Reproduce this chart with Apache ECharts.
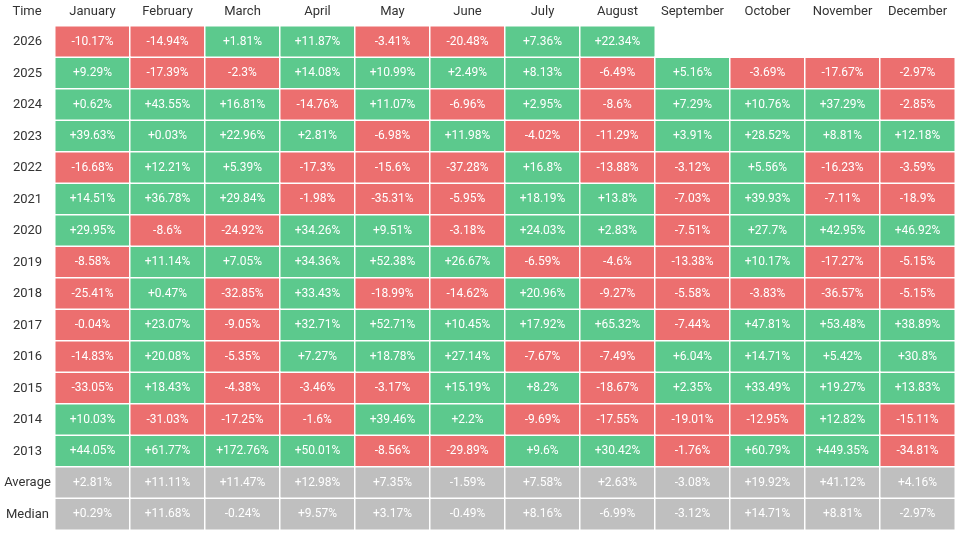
<!DOCTYPE html>
<html>
<head>
<meta charset="utf-8">
<script src="https://cdn.jsdelivr.net/npm/echarts@6/dist/echarts.min.js"></script>
<style>
  html, body { margin: 0; padding: 0; background: #fff; }
  #main { width: 960px; height: 536px; }
</style>
</head>
<body>
<div id="main"></div>
<script>
const months = ['January', 'February', 'March', 'April', 'May', 'June', 'July', 'August', 'September', 'October', 'November', 'December'];
// rows top to bottom
const rows = ['2026', '2025', '2024', '2023', '2022', '2021', '2020', '2019', '2018', '2017', '2016', '2015', '2014', '2013', 'Average', 'Median'];

const r2026 = [-10.17, -14.94, 1.81, 11.87, -3.41, -20.48, 7.36, 22.34, null, null, null, null];
const r2025 = [9.29, -17.39, -2.3, 14.08, 10.99, 2.49, 8.13, -6.49, 5.16, -3.69, -17.67, -2.97];
const r2024 = [0.62, 43.55, 16.81, -14.76, 11.07, -6.96, 2.95, -8.6, 7.29, 10.76, 37.29, -2.85];
const r2023 = [39.63, 0.03, 22.96, 2.81, -6.98, 11.98, -4.02, -11.29, 3.91, 28.52, 8.81, 12.18];
const r2022 = [-16.68, 12.21, 5.39, -17.3, -15.6, -37.28, 16.8, -13.88, -3.12, 5.56, -16.23, -3.59];
const r2021 = [14.51, 36.78, 29.84, -1.98, -35.31, -5.95, 18.19, 13.8, -7.03, 39.93, -7.11, -18.9];
const r2020 = [29.95, -8.6, -24.92, 34.26, 9.51, -3.18, 24.03, 2.83, -7.51, 27.7, 42.95, 46.92];
const r2019 = [-8.58, 11.14, 7.05, 34.36, 52.38, 26.67, -6.59, -4.6, -13.38, 10.17, -17.27, -5.15];
const r2018 = [-25.41, 0.47, -32.85, 33.43, -18.99, -14.62, 20.96, -9.27, -5.58, -3.83, -36.57, -5.15];
const r2017 = [-0.04, 23.07, -9.05, 32.71, 52.71, 10.45, 17.92, 65.32, -7.44, 47.81, 53.48, 38.89];
const r2016 = [-14.83, 20.08, -5.35, 7.27, 18.78, 27.14, -7.67, -7.49, 6.04, 14.71, 5.42, 30.8];
const r2015 = [-33.05, 18.43, -4.38, -3.46, -3.17, 15.19, 8.2, -18.67, 2.35, 33.49, 19.27, 13.83];
const r2014 = [10.03, -31.03, -17.25, -1.6, 39.46, 2.2, -9.69, -17.55, -19.01, -12.95, 12.82, -15.11];
const r2013 = [44.05, 61.77, 172.76, 50.01, -8.56, -29.89, 9.6, 30.42, -1.76, 60.79, 449.35, -34.81];
const average = [2.81, 11.11, 11.47, 12.98, 7.35, -1.59, 7.58, 2.63, -3.08, 19.92, 41.12, 4.16];
const median = [0.29, 11.68, -0.24, 9.57, 3.17, -0.49, 8.16, -6.99, -3.12, 14.71, 8.81, -2.97];

const table = [r2026, r2025, r2024, r2023, r2022, r2021, r2020, r2019, r2018, r2017, r2016, r2015, r2014, r2013, average, median];

const RED = '#ec6f6f', GREEN = '#5cc98d', GREY = '#bfbfbf';

// y axis runs bottom-up, so reverse row order
const yData = rows.slice().reverse();
const data = [];
table.forEach((row, ri) => {
  const y = rows.length - 1 - ri;
  const isStat = rows[ri] === 'Average' || rows[ri] === 'Median';
  row.forEach((v, mi) => {
    if (v === null) return;
    data.push({
      value: [mi, y, v],
      itemStyle: { color: isStat ? GREY : (v < 0 ? RED : GREEN) }
    });
  });
});

const chart = echarts.init(document.getElementById('main'));
chart.setOption({
  animation: false,
  textStyle: { fontFamily: 'Roboto, "Noto Sans", sans-serif' },
  grid: { left: 55, right: 5, top: 26, bottom: 6 },
  xAxis: {
    type: 'category',
    position: 'top',
    data: months,
    axisLine: { show: false },
    axisTick: { show: false },
    splitArea: { show: false },
    axisLabel: { interval: 0, color: '#333', fontSize: 13, margin: 8 }
  },
  yAxis: {
    type: 'category',
    data: yData,
    name: 'Time',
    nameLocation: 'end',
    nameGap: 8,
    nameTextStyle: { color: '#333', fontSize: 13, align: 'center', padding: [0, 56, 0, 0] },
    axisLine: { show: false },
    axisTick: { show: false },
    axisLabel: { interval: 0, color: '#333', fontSize: 13, margin: 0, width: 55, align: 'center', padding: [0, 55, 0, 0] }
  },
  series: [{
    type: 'heatmap',
    data: data,
    itemStyle: { borderColor: '#fff', borderWidth: 1.5 },
    label: {
      show: true,
      color: '#fff',
      fontSize: 12,
      formatter: p => (p.value[2] > 0 ? '+' : '') + p.value[2] + '%'
    }
  }]
});
</script>
</body>
</html>
